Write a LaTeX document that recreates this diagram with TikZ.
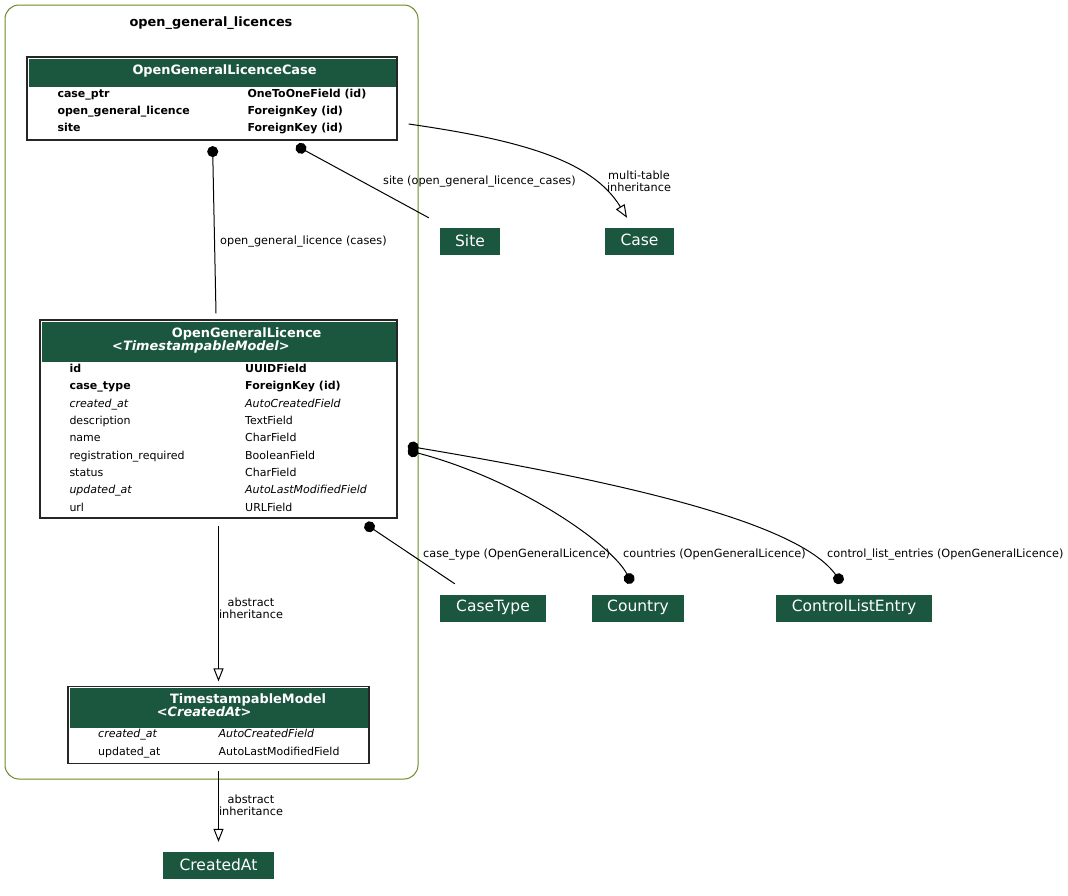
\documentclass[tikz,border=0pt]{standalone}
\usepackage{fontspec}
\setmainfont{DejaVu Sans}
\usetikzlibrary{arrows.meta,calc}
\definecolor{hdrgreen}{HTML}{1B563F}
\definecolor{clusterolive}{HTML}{698B22}
\begin{document}
\begin{tikzpicture}[x=1pt,y=-1pt,
  cluster/.style={draw=clusterolive, line width=1pt, rounded corners=14pt, inner sep=0pt},
  ctitle/.style={inner sep=0pt, yshift=-1.8pt, font=\fontsize{12.9}{15}\selectfont\bfseries},
  tbl/.style={draw=black!85, line width=1.2pt, inner sep=0pt},
  hdrbar/.style={fill=hdrgreen, inner sep=0pt},
  hdr/.style={inner sep=0pt, anchor=mid west, yshift=-1.5pt, text=white, font=\fontsize{12.9}{15}\selectfont\bfseries},
  hdri/.style={hdr, font=\fontsize{12.9}{15}\selectfont\bfseries\itshape},
  fld/.style={inner sep=0pt, anchor=mid west, yshift=-1.6pt, font=\fontsize{11}{13}\selectfont},
  fldb/.style={fld, font=\fontsize{11}{13}\selectfont\bfseries},
  fldi/.style={fld, font=\fontsize{11}{13}\selectfont\itshape},
  model/.style={fill=hdrgreen, inner sep=0pt},
  mlabel/.style={inner sep=0pt, text=white, yshift=1.2pt, font=\fontsize{15.5}{18}\selectfont},
  elabel/.style={inner sep=0pt, yshift=-1.6pt, font=\fontsize{11.3}{12}\selectfont},
  elabelw/.style={elabel, anchor=mid west},
  elabelc/.style={elabel, align=center},
  link/.style={line width=1pt},
  fk/.style={link, {Circle[length=11pt]}-},
  mm/.style={link, {Circle[length=11pt]}-{Circle[length=11pt]}},
  inherit/.style={link, -{Triangle[open,length=13pt,width=10pt]}}
]
\useasboundingbox (0,0) rectangle (1068,895);

% app cluster
\node[cluster, minimum width=413pt, minimum height=774pt] (cl) at (211.5,392) {};
\node[ctitle] (cltitle) at (211,21.5) {open\_general\_licences};

% OpenGeneralLicenceCase table
\node[tbl, minimum width=370pt, minimum height=83pt] (oglc) at (212,98.5) {};
\node[hdrbar, minimum width=367pt, minimum height=28pt] (oglch) at (212.5,72.5) {};
\node[hdr] (oglct) at (132.3,70.7) {OpenGeneralLicenceCase};
\node[fldb] (oglc1a) at (57.3,93.3) {case\_ptr};
\node[fldb] (oglc1b) at (247.3,93.3) {OneToOneField (id)};
\node[fldb] (oglc2a) at (57.3,110) {open\_general\_licence};
\node[fldb] (oglc2b) at (247.3,110) {ForeignKey (id)};
\node[fldb] (oglc3a) at (57.3,126.7) {site};
\node[fldb] (oglc3b) at (247.3,126.7) {ForeignKey (id)};

% OpenGeneralLicence table
\node[tbl, minimum width=357pt, minimum height=198pt] (ogl) at (218.5,419) {};
\node[hdrbar, minimum width=354.5pt, minimum height=40pt] (oglh) at (218.8,341.7) {};
\node[hdr] (oglt1) at (171.7,333.3) {OpenGeneralLicence};
\node[hdri] (oglt2) at (112,346.7) {<TimestampableModel>};
\node[fldb] (ogl1a) at (69.3,367.7) {id};
\node[fldb] (ogl1b) at (245,367.7) {UUIDField};
\node[fldb] (ogl2a) at (69.3,385.3) {case\_type};
\node[fldb] (ogl2b) at (245,385.3) {ForeignKey (id)};
\node[fldi] (ogl3a) at (69.3,403) {created\_at};
\node[fldi] (ogl3b) at (245,403) {AutoCreatedField};
\node[fld] (ogl4a) at (69.3,420) {description};
\node[fld] (ogl4b) at (245,420) {TextField};
\node[fld] (ogl5a) at (69.3,437.3) {name};
\node[fld] (ogl5b) at (245,437.3) {CharField};
\node[fld] (ogl6a) at (69.3,454.7) {registration\_required};
\node[fld] (ogl6b) at (245,454.7) {BooleanField};
\node[fld] (ogl7a) at (69.3,471.7) {status};
\node[fld] (ogl7b) at (245,471.7) {CharField};
\node[fldi] (ogl8a) at (69.3,489) {updated\_at};
\node[fldi] (ogl8b) at (245,489) {AutoLastModifiedField};
\node[fld] (ogl9a) at (69.3,506.7) {url};
\node[fld] (ogl9b) at (245,506.7) {URLField};

% TimestampableModel table
\node[tbl, minimum width=301pt, minimum height=77pt] (tm) at (218.5,725) {};
\node[hdrbar, minimum width=298.5pt, minimum height=40pt] (tmh) at (218.8,707.5) {};
\node[hdr] (tmt1) at (170,699.5) {TimestampableModel};
\node[hdri] (tmt2) at (156.7,712) {<CreatedAt>};
\node[fldi] (tm1a) at (98,733.5) {created\_at};
\node[fldi] (tm1b) at (218.5,733.5) {AutoCreatedField};
\node[fld] (tm2a) at (98,751) {updated\_at};
\node[fld] (tm2b) at (218.5,751) {AutoLastModifiedField};

% related models outside the app
\node[model, minimum width=60pt, minimum height=27pt] (site) at (470,241.5) {};
\node[mlabel] (sitet) at (site) {Site};
\node[model, minimum width=69pt, minimum height=27pt] (case) at (639.5,241.5) {};
\node[mlabel] (caset) at (case) {Case};
\node[model, minimum width=106pt, minimum height=27pt] (casetype) at (493,608.5) {};
\node[mlabel] (casetypet) at (casetype) {CaseType};
\node[model, minimum width=92pt, minimum height=27pt] (country) at (638,608.5) {};
\node[mlabel] (countryt) at (country) {Country};
\node[model, minimum width=156pt, minimum height=27pt] (cle) at (854,608.5) {};
\node[mlabel] (clet) at (cle) {ControlListEntry};
\node[model, minimum width=111pt, minimum height=27pt] (createdat) at (218.5,865.5) {};
\node[mlabel] (createdatt) at (createdat) {CreatedAt};

% relations
\draw[fk] ($(oglc.south)+(0.6,5.5)$) -- ($(ogl.north)+(-2.5,-6)$);
\node[elabelw] (l1) at (220,240) {open\_general\_licence (cases)};

\draw[fk] ($(oglc.south)+(84.2,5.1)$) -- ($(site.north west)+(-11,-10)$);
\node[elabelw] (l2) at (383,180.5) {site (open\_general\_licence\_cases)};

\draw[inherit] ($(oglc.east)+(11,25.5)$) .. controls (520,140) and (592,160) .. ($(case.north)+(-12.5,-10)$);
\node[elabelc] (l3) at (639,180) {multi-table\\inheritance};

\draw[fk] ($(ogl.south)+(146.5,5.1)$) -- ($(casetype.north west)+(15,-11)$);
\node[elabelw] (l4) at (423,553) {case\_type (OpenGeneralLicence)};

\draw[mm] ($(ogl.east)+(10.2,31.4)$) .. controls (520,480) and (612,545) .. ($(country.north)+(-6.3,-11.4)$);
\node[elabelw] (l5) at (623,553) {countries (OpenGeneralLicence)};

\draw[mm] ($(ogl.east)+(10.1,27.1)$) .. controls (640,485) and (800,525) .. ($(cle.north)+(-12.3,-11.6)$);
\node[elabelw] (l6) at (827,553) {control\_list\_entries (OpenGeneralLicence)};

\draw[inherit] ($(ogl.south)+(0,7)$) -- ($(tm.north)+(0,-4.5)$);
\node[elabelc] (l7) at (251,607) {abstract\\inheritance};

\draw[inherit] ($(tm.south)+(0,6.5)$) -- ($(createdat.north)+(0,-10)$);
\node[elabelc] (l8) at (251,804) {abstract\\inheritance};
\end{tikzpicture}
\end{document}
